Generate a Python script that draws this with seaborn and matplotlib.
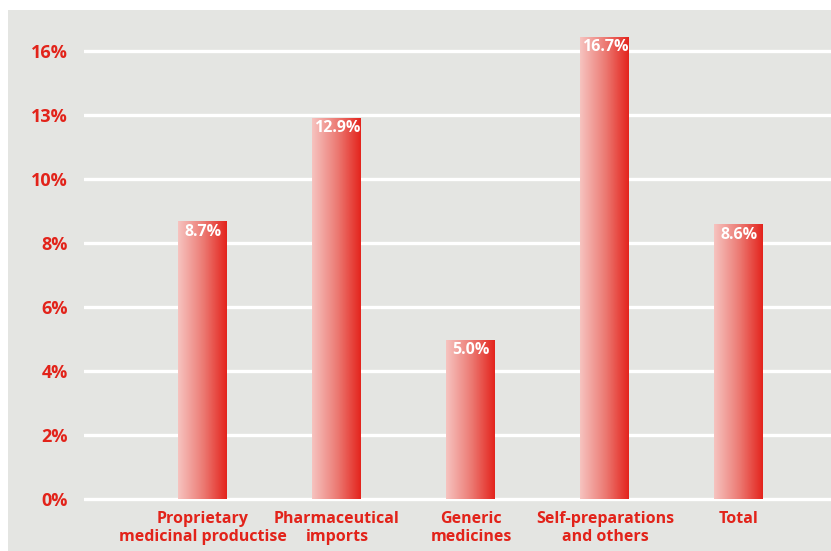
import numpy as np
import matplotlib
matplotlib.use("Agg")
import matplotlib.pyplot as plt
from matplotlib.colors import LinearSegmentedColormap
from matplotlib.patches import Rectangle
import seaborn as sns

categories = [
    "Proprietary\nmedicinal productise",
    "Pharmaceutical\nimports",
    "Generic\nmedicines",
    "Self-preparations\nand others",
    "Total",
]
values = [8.7, 12.9, 5.0, 16.7, 8.6]
tick_values = [0, 2, 4, 6, 8, 10, 13, 16]
tick_labels = ["0%", "2%", "4%", "6%", "8%", "10%", "13%", "16%"]

RED = "#e2231a"
BG = "#e4e5e2"

sns.set_style("white")
plt.rcParams["font.family"] = ["Open Sans", "DejaVu Sans"]

# the original axis spaces its (uneven) tick values evenly
tv = np.array(tick_values, dtype=float)
ti = np.arange(len(tv), dtype=float)


def forward(v):
    v = np.asarray(v, dtype=float)
    return np.where(v > tv[-1], ti[-1] + (v - tv[-1]) / 3,
                    np.where(v < 0, v / 2, np.interp(v, tv, ti)))


def inverse(i):
    i = np.asarray(i, dtype=float)
    return np.where(i > ti[-1], tv[-1] + (i - ti[-1]) * 3,
                    np.where(i < 0, i * 2, np.interp(i, ti, tv)))


fig = plt.figure(figsize=(8.31, 5.51), dpi=100)
fig.patch.set_facecolor("white")
fig.add_artist(Rectangle((8 / 831, 0), 1, 541 / 551,
                         transform=fig.transFigure,
                         facecolor=BG, edgecolor="none", zorder=0))

ax = fig.add_axes([84 / 831, 46 / 551, 1 - 84 / 831, 495 / 551])
ax.set_facecolor("none")

sns.barplot(x=categories, y=values, ax=ax, width=0.373, color=RED)

ax.set_yscale("function", functions=(forward, inverse))

# horizontal pink-to-red gradient on each bar
cmap = LinearSegmentedColormap.from_list("bar", ["#f6c2be", "#ec7a73", "#e31e17"])
grad = np.linspace(0, 1, 256).reshape(1, -1)
for p, v in zip(ax.patches, values):
    x0 = p.get_x()
    w = p.get_width()
    ax.imshow(grad, extent=[x0, x0 + w, 0, v], aspect="auto",
              cmap=cmap, zorder=3, interpolation="bilinear")
    p.set_facecolor("none")
    p.set_edgecolor("none")
    ax.annotate(f"{v:.1f}%", xy=(x0 + w / 2, v), xytext=(0, -2),
                textcoords="offset points", ha="center", va="top",
                color="white", fontweight="bold", fontsize=11.5, zorder=4)

ax.set_xlim(-0.888, 4.687)
ax.set_ylim(-0.178, 17.94)

ax.set_yticks(tick_values)
ax.set_yticklabels(tick_labels)
ax.yaxis.grid(True, color="white", linewidth=2.4)
ax.xaxis.grid(False)
ax.set_axisbelow(True)

ax.tick_params(axis="y", length=0, pad=11.5, labelsize=13, labelcolor=RED)
ax.tick_params(axis="x", length=0, pad=4.5, labelsize=11.5, labelcolor=RED)
for lab in ax.get_yticklabels():
    lab.set_fontweight("bold")
for lab in ax.get_xticklabels():
    lab.set_fontweight("bold")
    lab.set_linespacing(1.12)

sns.despine(ax=ax, left=True, bottom=True)

plt.savefig("out.png", dpi=100)
plt.close()
